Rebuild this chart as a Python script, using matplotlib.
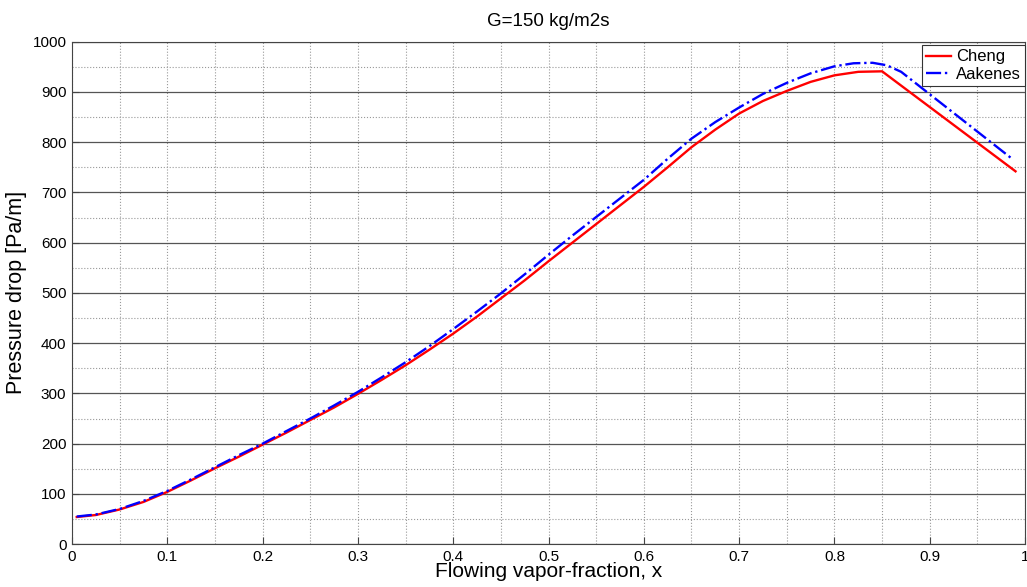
import matplotlib
matplotlib.use('Agg')
import matplotlib.pyplot as plt
import numpy as np
from matplotlib.ticker import MultipleLocator

plt.rcParams['font.family'] = ['Liberation Sans', 'DejaVu Sans']

# Cheng correlation
x_c = [0.005, 0.025, 0.05, 0.075, 0.1, 0.125, 0.15, 0.175, 0.2, 0.225, 0.25, 0.275,
       0.3, 0.325, 0.35, 0.375, 0.4, 0.425, 0.45, 0.475, 0.5, 0.525, 0.55, 0.575,
       0.6, 0.625, 0.65, 0.675, 0.7, 0.725, 0.75, 0.775, 0.8, 0.825, 0.85, 0.99]
cheng = [54, 58, 69, 84, 104, 127, 151, 174, 198, 222, 247, 272,
         299, 327, 356, 387, 419, 453, 489, 525, 563, 600, 637, 674,
         711, 750, 790, 825, 857, 882, 902, 920, 933, 940, 941, 742]

# Aakenes correlation
x_a = [0.005, 0.025, 0.05, 0.075, 0.1, 0.125, 0.15, 0.175, 0.2, 0.225, 0.25, 0.275,
       0.3, 0.325, 0.35, 0.375, 0.4, 0.425, 0.45, 0.475, 0.5, 0.525, 0.55, 0.575,
       0.6, 0.625, 0.65, 0.675, 0.7, 0.725, 0.75, 0.775, 0.8, 0.82, 0.84, 0.855,
       0.87, 0.985]
aakenes = [55, 59, 70, 86, 106, 129, 153, 177, 200, 225, 250, 276,
           303, 332, 362, 394, 428, 463, 499, 537, 576, 614, 651, 688,
           725, 767, 807, 840, 869, 896, 918, 937, 951, 957, 958, 953,
           940, 769]

xtick_labels = ['0', '0.1', '0.2', '0.3', '0.4', '0.5', '0.6', '0.7', '0.8', '0.9', '1']

fig = plt.figure(figsize=(10.27, 5.87), dpi=100)
ax = fig.add_axes([0.0701, 0.073, 0.928, 0.856])

ax.plot(x_c, cheng, color='red', lw=1.7, label='Cheng')
ax.plot(x_a, aakenes, color='blue', lw=1.7, ls='-.', label='Aakenes')

ax.set_xlim(0, 1)
ax.set_ylim(0, 1000)
ax.set_xticks(np.arange(0, 1.01, 0.1))
ax.set_xticklabels(xtick_labels)
ax.xaxis.set_minor_locator(MultipleLocator(0.05))
ax.yaxis.set_major_locator(MultipleLocator(100))
ax.yaxis.set_minor_locator(MultipleLocator(50))
ax.tick_params(axis='both', which='major', direction='in', length=5, labelsize=11,
               color='#444444', pad=4)
ax.tick_params(axis='both', which='minor', length=0)

ax.grid(True, axis='y', which='major', color='#555555', ls='-', lw=0.9)
ax.grid(True, axis='y', which='minor', color='#999999', ls=':', lw=0.8)
ax.grid(True, axis='x', which='both', color='#999999', ls=':', lw=0.8)
ax.set_axisbelow(True)
for s in ax.spines.values():
    s.set_color('#444444')

ax.set_title('G=150 kg/m2s', fontsize=13.5, pad=11)
ax.set_xlabel('Flowing vapor-fraction, x', fontsize=15, labelpad=-1)
ax.set_ylabel('Pressure drop [Pa/m]', fontsize=15.5, labelpad=4)

leg = ax.legend(loc='upper right', bbox_to_anchor=(1.0, 0.993), fontsize=12,
                fancybox=False, framealpha=1, edgecolor='#333333', borderaxespad=0,
                handlelength=1.5, handletextpad=0.3, borderpad=0.25, labelspacing=0.15)
leg.get_frame().set_linewidth(0.8)

fig.savefig('out.png', dpi=100)
